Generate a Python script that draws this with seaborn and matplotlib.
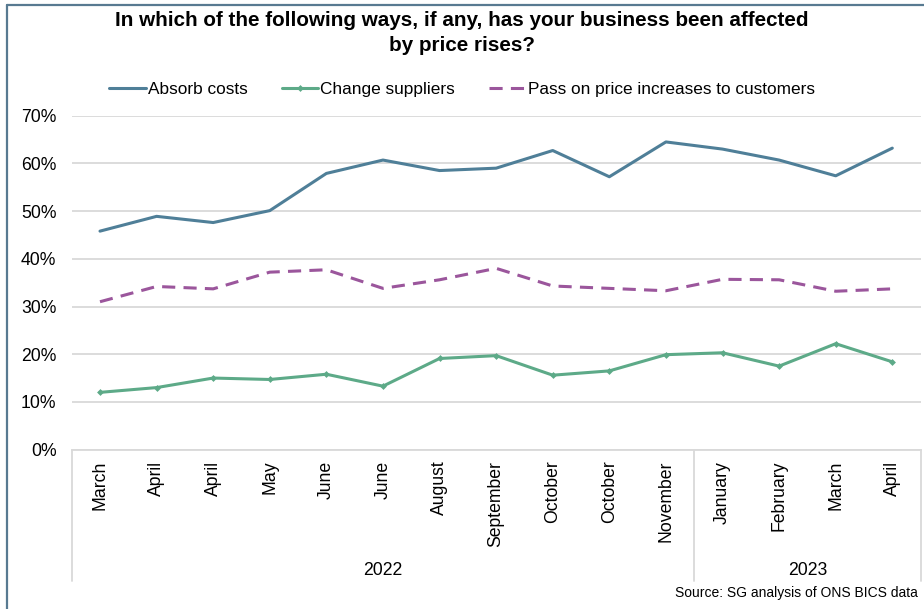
import matplotlib
matplotlib.use("Agg")
import matplotlib.pyplot as plt
import matplotlib.transforms as mtransforms
from matplotlib.lines import Line2D
from matplotlib.ticker import FuncFormatter, MultipleLocator
import pandas as pd
import seaborn as sns

# Survey waves (month labels) and their years
months = ["March", "April", "April", "May", "June", "June", "August", "September",
          "October", "October", "November", "January", "February", "March", "April"]
years = ["2022"] * 11 + ["2023"] * 4

# Share of businesses (%) reporting each response
absorb_costs = [45.8, 48.9, 47.6, 50.1, 57.9, 60.7, 58.5, 59.0, 62.7, 57.2, 64.5, 63.0, 60.7, 57.4, 63.2]
change_suppliers = [12.0, 13.0, 15.0, 14.7, 15.8, 13.3, 19.1, 19.7, 15.6, 16.5, 19.9, 20.3, 17.5, 22.2, 18.4]
pass_on = [31.0, 34.2, 33.7, 37.2, 37.7, 33.8, 35.6, 38.0, 34.3, 33.8, 33.3, 35.7, 35.6, 33.2, 33.7]

series_names = ["Absorb costs", "Change suppliers", "Pass on price increases to customers"]
series_values = [absorb_costs, change_suppliers, pass_on]

sns.set_theme(style="white")
plt.rcParams["font.family"] = ["Liberation Sans", "DejaVu Sans"]
plt.rcParams["text.color"] = "#000000"

colors = {"Absorb costs": "#4f7f98",
          "Change suppliers": "#5daa88",
          "Pass on price increases to customers": "#9b569c"}
line_styles = {"Absorb costs": "-", "Change suppliers": "-",
               "Pass on price increases to customers": (0, (4.3, 2.7))}
markers = {"Absorb costs": None, "Change suppliers": "D",
           "Pass on price increases to customers": None}

label_size = 12.7

fig = plt.figure(figsize=(9.24, 6.09), dpi=100)
ax = fig.add_axes([71.7 / 924, 1 - 449.6 / 609, (920.6 - 71.7) / 924, (449.6 - 115.7) / 609])

for name, vals in zip(series_names, series_values):
    d = pd.DataFrame({"wave": range(len(vals)), "value": vals})
    sns.lineplot(data=d, x="wave", y="value", color=colors[name],
                 linestyle=line_styles[name], marker=markers[name],
                 linewidth=2.2, markersize=3.5, markeredgewidth=0, ax=ax)

ax.set_xlim(-0.5, len(months) - 0.5)
ax.set_ylim(0, 70)
ax.yaxis.set_major_locator(MultipleLocator(10))
ax.yaxis.set_major_formatter(FuncFormatter(lambda v, p: f"{v:.0f}%"))
ax.set_xticks(range(len(months)))
ax.set_xticklabels(months, rotation=90, va="top", ha="center")
ax.tick_params(axis="both", length=0, labelsize=label_size, colors="#000000")
ax.tick_params(axis="y", pad=11)
ax.tick_params(axis="x", pad=8)
ax.set_xlabel("")
ax.set_ylabel("")
ax.grid(axis="y", color="#d9d9d9", linewidth=1.3)
ax.set_axisbelow(True)
for side in ["top", "right", "left"]:
    ax.spines[side].set_visible(False)
ax.spines["bottom"].set_color("#d9d9d9")
ax.spines["bottom"].set_linewidth(1.3)

# Grouped category axis: separators between years and year labels
trans = mtransforms.blended_transform_factory(ax.transData, ax.transAxes)
year_groups = []
for i, y in enumerate(years):
    if not year_groups or year_groups[-1][0] != y:
        year_groups.append([y, i, i])
    else:
        year_groups[-1][2] = i
bounds = [g[1] - 0.5 for g in year_groups] + [year_groups[-1][2] + 0.5]
for b in bounds:
    ax.add_line(Line2D([b, b], [0, -0.394], transform=trans, color="#d9d9d9",
                       linewidth=1.3, clip_on=False))
for label, start, end in year_groups:
    ax.text((start + end) / 2, -0.362, label, transform=trans, ha="center",
            va="center", fontsize=label_size, color="#000000")

# Legend
handles = [Line2D([], [], color=colors[n], linewidth=2.2, linestyle=line_styles[n],
                  marker=markers[n], markersize=3.5, markeredgewidth=0)
           for n in series_names]
fig.legend(handles, series_names, loc="center", bbox_to_anchor=(0.5, 1 - 89 / 609),
           ncol=3, frameon=False, fontsize=12.4, handlelength=2.1,
           handletextpad=0.12, columnspacing=2.0)

fig.text(0.5, 1 - 11 / 609,
         "In which of the following ways, if any, has your business been affected\nby price rises?",
         ha="center", va="top", fontsize=14.9, fontweight="bold", linespacing=1.4)

fig.text(918 / 924, 1 - 593 / 609, "Source: SG analysis of ONS BICS data",
         ha="right", va="center", fontsize=10)

# Chart frame
frame_color = "#587a91"
fig.add_artist(Line2D([6.5 / 924, 1], [1 - 5 / 609, 1 - 5 / 609],
                      transform=fig.transFigure, color=frame_color, linewidth=1.6))
fig.add_artist(Line2D([6.5 / 924, 6.5 / 924], [0, 1 - 5 / 609],
                      transform=fig.transFigure, color=frame_color, linewidth=1.6))

fig.savefig("out.png", dpi=100, facecolor="white")
